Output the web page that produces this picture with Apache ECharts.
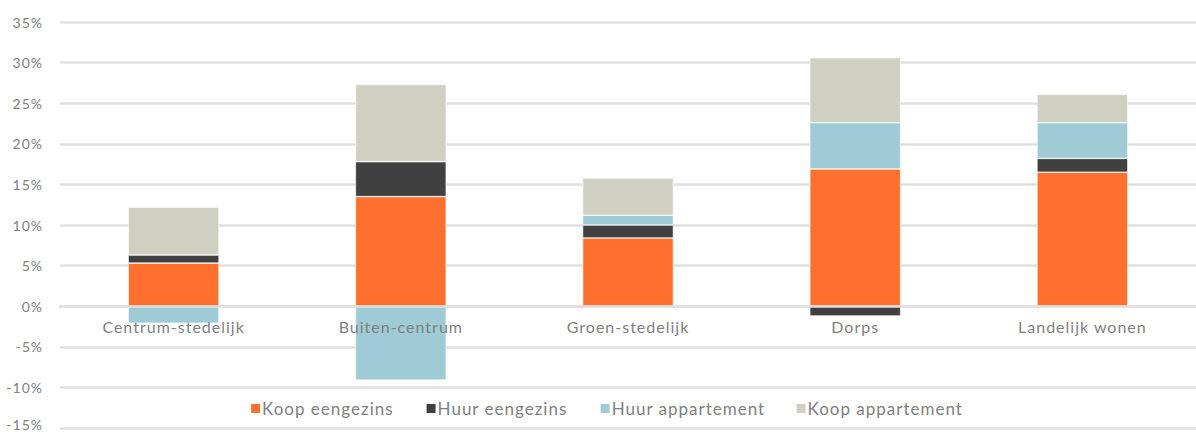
<!DOCTYPE html>
<html>
<head>
<meta charset="utf-8">
<script src="https://cdn.jsdelivr.net/npm/echarts@6/dist/echarts.min.js"></script>
<style>
  html, body { margin: 0; padding: 0; background: #fff; }
  #chart { width: 1196px; height: 432px; }
  /* the source font is wide and loosely spaced */
  #chart text { letter-spacing: 1px; }
</style>
</head>
<body>
<div id="chart"></div>
<script>
// woonmilieus
const categories = ['Centrum-stedelijk', 'Buiten-centrum', 'Groen-stedelijk', 'Dorps', 'Landelijk wonen'];

// aandelen in %
const koopEengezins = [5.3, 13.5, 8.4, 16.9, 16.5];
const huurEengezins = [1.0, 4.3, 1.6, -1.2, 1.7];
const huurAppartement = [-2.1, -9.1, 1.2, 5.7, 4.4];
const koopAppartement = [5.9, 9.5, 4.6, 8.0, 3.5];

const yTicks = { min: -15, max: 35, interval: 5 };

const textColor = '#7f7f7f';
const fontFamily = 'Lato, "Noto Sans", sans-serif';

const gridTop = 22, gridBottom = 4, height = 432;
// x axis sits on the zero line, labels included
const zeroOffset = -(height - gridTop - gridBottom) * (0 - yTicks.min) / (yTicks.max - yTicks.min);

const chart = echarts.init(document.getElementById('chart'), null, { renderer: 'svg' });

function barSeries(name, data, color) {
  return {
    name: name,
    type: 'bar',
    stack: 'totaal',
    barWidth: '40%',
    data: data,
    itemStyle: { color: color, borderColor: '#fff', borderWidth: 0.6 }
  };
}

chart.setOption({
  animation: false,
  textStyle: { fontFamily: fontFamily },
  grid: { left: 60, right: 0, top: gridTop, bottom: gridBottom, containLabel: false, outerBoundsMode: 'none' },
  legend: {
    bottom: 10,
    left: 'center',
    itemWidth: 11,
    itemHeight: 11,
    itemGap: 45,
    icon: 'rect',
    textStyle: { color: textColor, fontSize: 17, fontFamily: fontFamily, padding: [0, 0, 0, -4] },
    data: ['Koop eengezins', 'Huur eengezins', 'Huur appartement', 'Koop appartement']
  },
  xAxis: {
    type: 'category',
    data: categories,
    z: 5,
    offset: zeroOffset,
    axisLine: { show: true, onZero: false, lineStyle: { color: '#e0e0e0', width: 2.5 } },
    axisTick: { show: false },
    axisLabel: { color: textColor, fontSize: 16, margin: 12, fontFamily: fontFamily }
  },
  yAxis: {
    type: 'value',
    min: yTicks.min,
    max: yTicks.max,
    interval: yTicks.interval,
    axisLine: { show: false },
    axisTick: { show: false },
    splitLine: { lineStyle: { color: '#e0e0e0', width: 2.5 } },
    axisLabel: {
      color: textColor, fontSize: 14, margin: 17, fontFamily: fontFamily,
      formatter: function (v) {
        return v === yTicks.min ? '{low|' + v + '%}' : v + '%';
      },
      rich: { low: { color: textColor, fontSize: 14, fontFamily: fontFamily, padding: [0, 0, 8, 0] } }
    }
  },
  series: [
    barSeries('Koop eengezins', koopEengezins, '#ff6f2e'),
    barSeries('Huur eengezins', huurEengezins, '#404040'),
    barSeries('Huur appartement', huurAppartement, '#9ecbd6'),
    barSeries('Koop appartement', koopAppartement, '#d0d0c2')
  ]
});
</script>
</body>
</html>
